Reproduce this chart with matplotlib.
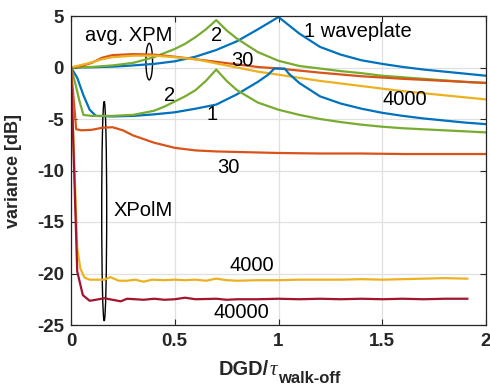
import matplotlib
matplotlib.use("Agg")
import matplotlib.pyplot as plt
from matplotlib.patches import Ellipse

plt.rcParams['font.family'] = ['Liberation Sans', 'DejaVu Sans']
plt.rcParams['axes.unicode_minus'] = False

# ---------------- data ----------------
# avg. XPM curves
xpm1_x = [0, 0.1, 0.2, 0.3, 0.4, 0.5, 0.6, 0.7, 0.8, 0.9, 0.95, 1.0, 1.05, 1.1, 1.2, 1.3,
          1.4, 1.5, 1.6, 1.7, 1.8, 1.9, 2.0]
xpm1_y = [0, 0.02, 0.08, 0.2, 0.35, 0.6, 1.05, 1.7, 2.55, 3.7, 4.3, 4.9, 4.1, 3.3, 2.0, 1.25,
          0.7, 0.35, 0.05, -0.2, -0.4, -0.6, -0.8]

xpm2_x = [0, 0.1, 0.2, 0.3, 0.4, 0.5, 0.55, 0.6, 0.65, 0.7, 0.75, 0.8, 0.9, 1.0, 1.1, 1.2,
          1.3, 1.4, 1.5, 1.6, 1.7, 1.8, 1.9, 2.0]
xpm2_y = [0, 0.05, 0.2, 0.45, 1.0, 1.8, 2.3, 2.95, 3.7, 4.6, 3.6, 2.8, 1.5, 0.65, 0.15, -0.1,
          -0.35, -0.55, -0.8, -0.95, -1.1, -1.25, -1.4, -1.5]

xpm30_x = [0, 0.05, 0.1, 0.15, 0.2, 0.3, 0.4, 0.5, 0.6, 0.7, 0.8, 0.9, 1.0, 1.2, 1.4, 1.6, 1.8, 2.0]
xpm30_y = [0, 0.15, 0.45, 0.95, 1.2, 1.3, 1.25, 1.05, 0.8, 0.55, 0.3, 0.05, -0.1, -0.5, -0.85,
           -1.1, -1.3, -1.5]

xpm4000_x = [0, 0.05, 0.1, 0.15, 0.2, 0.3, 0.4, 0.5, 0.6, 0.7, 0.8, 0.9, 1.0, 1.2, 1.4, 1.6, 1.8, 2.0]
xpm4000_y = [0, 0.25, 0.5, 0.8, 1.0, 1.15, 1.15, 1.0, 0.8, 0.4, 0.0, -0.4, -0.7, -1.3, -1.8,
             -2.3, -2.7, -3.1]

# XPolM curves
xpol1_x = [0, 0.03, 0.06, 0.09, 0.12, 0.2, 0.3, 0.4, 0.5, 0.6, 0.7, 0.8, 0.9, 0.95, 0.98,
           1.03, 1.05, 1.1, 1.2, 1.3, 1.4, 1.5, 1.6, 1.7, 1.8, 1.9, 2.0]
xpol1_y = [0, -1.0, -2.7, -4.1, -4.7, -4.75, -4.7, -4.55, -4.35, -4.0, -3.6, -2.6, -1.4, -0.7,
           -0.1, -0.1, -0.6, -1.5, -2.8, -3.5, -4.0, -4.4, -4.7, -4.95, -5.15, -5.35, -5.5]

xpol2_x = [0, 0.02, 0.04, 0.06, 0.1, 0.2, 0.3, 0.4, 0.45, 0.5, 0.55, 0.6, 0.65, 0.7, 0.75,
           0.8, 0.9, 1.0, 1.1, 1.2, 1.3, 1.4, 1.5, 1.6, 1.7, 1.8, 1.9, 2.0]
xpol2_y = [0, -1.5, -3.2, -4.6, -4.7, -4.7, -4.6, -4.2, -3.8, -3.3, -2.8, -2.2, -1.3, -0.2,
           -1.3, -2.2, -3.4, -4.1, -4.6, -5.0, -5.3, -5.55, -5.75, -5.9, -6.0, -6.1, -6.2, -6.3]

xpol30_x = [0, 0.025, 0.05, 0.1, 0.15, 0.2, 0.25, 0.3, 0.4, 0.5, 0.6, 0.7, 0.8, 0.9, 1.0,
            1.2, 1.4, 1.6, 1.8, 2.0]
xpol30_y = [0, -6.0, -6.1, -6.05, -5.85, -5.8, -6.1, -6.6, -7.3, -7.8, -8.05, -8.15, -8.2,
            -8.25, -8.3, -8.35, -8.35, -8.4, -8.4, -8.4]

xpol4000_x = [0, 0.03, 0.045, 0.065, 0.09, 0.13, 0.16, 0.19, 0.23, 0.27, 0.31, 0.35, 0.39,
              0.45, 0.5, 0.55, 0.6, 0.65, 0.7, 0.75, 0.8, 0.9, 1.0, 1.1, 1.2, 1.3, 1.4, 1.5,
              1.6, 1.7, 1.8, 1.91]
xpol4000_y = [0, -17.5, -19.5, -20.4, -20.6, -20.6, -20.6, -20.35, -20.7, -20.7, -20.6, -20.8,
              -20.6, -20.65, -20.6, -20.65, -20.6, -20.7, -20.5, -20.65, -20.7, -20.65, -20.65,
              -20.6, -20.6, -20.6, -20.55, -20.6, -20.55, -20.5, -20.45, -20.5]

xpol40000_x = [0, 0.03, 0.057, 0.09, 0.12, 0.16, 0.2, 0.24, 0.27, 0.31, 0.35, 0.4, 0.45, 0.5,
               0.55, 0.6, 0.7, 0.75, 0.8, 0.9, 1.0, 1.1, 1.2, 1.3, 1.4, 1.5, 1.6, 1.7, 1.8, 1.91]
xpol40000_y = [0, -19.8, -22.1, -22.65, -22.55, -22.4, -22.55, -22.7, -22.45, -22.5, -22.55,
               -22.45, -22.55, -22.5, -22.35, -22.5, -22.45, -22.55, -22.5, -22.5, -22.45,
               -22.5, -22.45, -22.5, -22.45, -22.5, -22.45, -22.5, -22.45, -22.45]

x_ticks = [0, 0.5, 1, 1.5, 2]
x_ticklabels = ['0', '0.5', '1', '1.5', '2']
y_ticks = [-25, -20, -15, -10, -5, 0, 5]

BLUE = '#0072BD'
ORANGE = '#D95319'
YELLOW = '#EDB120'
GREEN = '#77AC30'
DARKRED = '#A2142F'
INK = '#262626'

W, H = 490, 388

# ---------------- figure ----------------
fig = plt.figure(figsize=(W / 100, H / 100), dpi=100)
ax = fig.add_axes([71 / W, 1 - 325 / H, (486 - 71) / W, (325 - 16) / H])

lw = 1.6
ax.plot(xpm1_x, xpm1_y, color=BLUE, lw=lw)
ax.plot(xpm2_x, xpm2_y, color=GREEN, lw=lw)
ax.plot(xpm30_x, xpm30_y, color=ORANGE, lw=lw)
ax.plot(xpm4000_x, xpm4000_y, color=YELLOW, lw=lw)
ax.plot(xpol1_x, xpol1_y, color=BLUE, lw=lw)
ax.plot(xpol2_x, xpol2_y, color=GREEN, lw=lw)
ax.plot(xpol30_x, xpol30_y, color=ORANGE, lw=lw)
ax.plot(xpol4000_x, xpol4000_y, color=YELLOW, lw=lw)
ax.plot(xpol40000_x, xpol40000_y, color=DARKRED, lw=lw)

ax.add_patch(Ellipse((0.377, 0.57), 0.032, 3.55, fill=False, edgecolor='black', lw=1.0))
ax.add_patch(Ellipse((0.16, -13.95), 0.024, 21.3, fill=False, edgecolor='black', lw=1.0))

fs = 14.5
ax.text(0.067, 2.6, 'avg. XPM', fontsize=fs, ha='left', va='baseline')
ax.text(0.70, 2.6, '2', fontsize=fs, ha='center', va='baseline')
ax.text(1.125, 2.93, '1 waveplate', fontsize=fs, ha='left', va='baseline')
ax.text(0.825, 0.15, '30', fontsize=fs, ha='center', va='baseline')
ax.text(1.61, -3.64, '4000', fontsize=fs, ha='center', va='baseline')
ax.text(0.475, -3.25, '2', fontsize=fs, ha='center', va='baseline')
ax.text(0.68, -5.1, '1', fontsize=fs, ha='center', va='baseline')
ax.text(0.76, -10.27, '30', fontsize=fs, ha='center', va='baseline')
ax.text(0.204, -14.4, 'XPolM', fontsize=fs, ha='left', va='baseline')
ax.text(0.873, -19.8, '4000', fontsize=fs, ha='center', va='baseline')
ax.text(0.82, -24.35, '40000', fontsize=fs, ha='center', va='baseline')

ax.set_xlim(0, 2)
ax.set_ylim(-25, 5)
ax.set_xticks(x_ticks)
ax.set_xticklabels(x_ticklabels)
ax.set_yticks(y_ticks)
ax.set_yticklabels([str(v) for v in y_ticks])
ax.grid(True, color='#E0E0E0', lw=0.9)
ax.set_axisbelow(True)
ax.tick_params(direction='in', length=4, width=0.8, top=True, right=True,
               labelsize=13.5, color=INK)
ax.tick_params(axis='x', pad=6)
ax.tick_params(axis='y', pad=5)
for lab in ax.get_xticklabels() + ax.get_yticklabels():
    lab.set_fontweight('bold')
    lab.set_color(INK)
for sp in ax.spines.values():
    sp.set_color(INK)
    sp.set_linewidth(0.9)

ax.set_ylabel('variance [dB]', fontsize=13, fontweight='bold', color=INK)
ax.yaxis.set_label_coords(-0.118, 0.5)

# x label built from pieces: "DGD/" + italic tau + bold subscript, laid out side by side
t1 = fig.text(0, 1 - 375 / H, 'DGD/', fontsize=14.4, fontweight='bold', color=INK,
              ha='left', va='baseline')
t2 = fig.text(0, 1 - 375 / H, '\u03c4', fontsize=15, fontstyle='italic',
              family=['Liberation Serif', 'DejaVu Serif'], color=INK, ha='left', va='baseline')
t3 = fig.text(0, 1 - 383 / H, 'walk-off', fontsize=12, fontweight='bold', color=INK,
              ha='left', va='baseline')
fig.canvas.draw()
r = fig.canvas.get_renderer()
w1 = t1.get_window_extent(r).width
w2 = t2.get_window_extent(r).width
w3 = t3.get_window_extent(r).width
gap1, gap2 = 1.0, 0.5
total = w1 + gap1 + w2 + gap2 + w3
x0 = 279.5 - total / 2
t1.set_x(x0 / W)
t2.set_x((x0 + w1 + gap1) / W)
t3.set_x((x0 + w1 + gap1 + w2 + gap2) / W)

fig.savefig('out.png', dpi=100)
